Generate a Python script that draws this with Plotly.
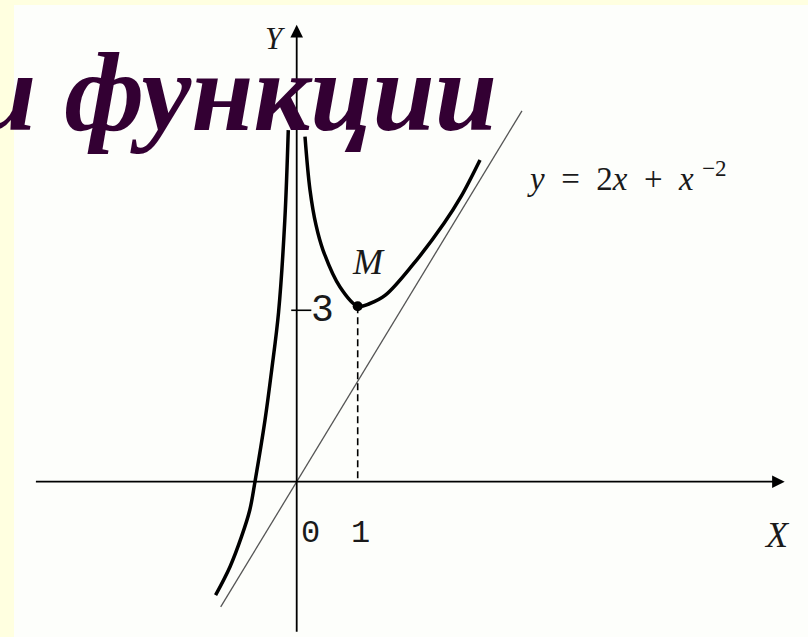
import plotly.graph_objects as go

# точки кривой y = 2x + x^-2
right_x = [0.136, 0.218, 0.316, 0.431, 0.71, 1.0, 1.20, 1.448, 1.907, 2.415, 2.693, 3.005]
right_y = [5.897, 4.986, 4.388, 3.96, 3.328, 3.0, 3.046, 3.183, 3.713, 4.417, 4.872, 5.50]

left_x = [-0.138, -0.195, -0.297, -0.41, -0.52, -0.684, -0.769, -0.905, -1.093, -1.33]
left_y = [6.01, 4.47, 2.90, 1.91, 1.05, 0.0, -0.484, -0.94, -1.453, -1.94]

# асимптота y = 2x
asym_x = [-1.246, 3.693]
asym_y = [-2.14, 6.34]

m_x = [1]
m_y = [3]
tick_y = 2.93

fig = go.Figure()

fig.add_trace(go.Scatter(x=asym_x, y=asym_y, mode='lines',
                         line=dict(color='#555555', width=1.3)))
fig.add_trace(go.Scatter(x=[m_x[0], m_x[0]], y=[m_y[0], 0], mode='lines',
                         line=dict(color='black', width=1.6, dash='7px,4px')))
fig.add_trace(go.Scatter(x=right_x, y=right_y, mode='lines',
                         line=dict(color='black', width=3.5, shape='spline', smoothing=1.0)))
fig.add_trace(go.Scatter(x=left_x, y=left_y, mode='lines',
                         line=dict(color='black', width=3.5, shape='spline', smoothing=1.0)))
fig.add_trace(go.Scatter(x=m_x, y=m_y, mode='markers',
                         marker=dict(color='black', size=10)))
# засечка на оси Y
fig.add_trace(go.Scatter(x=[-0.09, 0.24], y=[tick_y, tick_y], mode='lines',
                         line=dict(color='black', width=1.6)))

serif = 'Liberation Serif'
mono = 'Liberation Mono'
ink = '#1a1a1a'
sp = '\u00a0'

annotations = [
    # оси со стрелками
    dict(x=8.0, y=0, ax=-4.30, ay=0, xref='x', yref='y', axref='x', ayref='y',
         text='', showarrow=True, arrowhead=2, arrowsize=1.4, arrowwidth=1.8, arrowcolor='black'),
    dict(x=0, y=7.81, ax=0, ay=-2.59, xref='x', yref='y', axref='x', ayref='y',
         text='', showarrow=True, arrowhead=2, arrowsize=1.4, arrowwidth=1.8, arrowcolor='black'),
    dict(x=-0.36, y=7.57, text='<i>Y</i>', font=dict(family=serif, size=31, color=ink)),
    dict(x=7.87, y=-0.91, text='<i>X</i>', font=dict(family=serif, size=36, color=ink)),
    dict(x=0.23, y=-0.89, text='0', font=dict(family=mono, size=32, color=ink)),
    dict(x=1.04, y=-0.89, text='1', font=dict(family=mono, size=32, color=ink)),
    dict(x=0.42, y=2.93, text='3', font=dict(family=mono, size=38, color=ink)),
    dict(x=1.17, y=3.75, text='<i>M</i>', font=dict(family=serif, size=36, color=ink)),
    dict(x=5.41, y=5.23,
         text='<i>y</i>' + sp * 2 + '=' + sp * 2 + '2<i>x</i>' + sp * 2 + '+' + sp * 2 + '<i>x</i>' + sp + '<sup>−2</sup>',
         font=dict(family=serif, size=33, color=ink)),
]
for a in annotations[2:]:
    a.update(xref='x', yref='y', showarrow=False)

# заголовок слайда, обрезанный слева
annotations.append(dict(x=499 / 808, y=1 - 92 / 637, xref='paper', yref='paper',
                        xanchor='right', yanchor='middle', showarrow=False,
                        text='<b><i>и функции</i></b>',
                        font=dict(family=serif, size=112, color='#330033')))

fig.update_layout(
    width=808, height=637,
    margin=dict(l=0, r=0, t=0, b=0),
    paper_bgcolor='#FFFFE0',
    plot_bgcolor='rgba(0,0,0,0)',
    showlegend=False,
    xaxis=dict(range=[-4.864, 8.382], visible=False, fixedrange=True),
    yaxis=dict(range=[-2.655, 8.234], visible=False, fixedrange=True),
    shapes=[dict(type='rect', xref='paper', yref='paper', x0=14 / 808, x1=1,
                 y0=0, y1=1 - 5 / 637, fillcolor='#FDFEFB', line=dict(width=0), layer='below')],
    annotations=annotations,
)

fig.write_html("out.html", config={'displayModeBar': False},
               post_script="document.body.style.margin='0';")
